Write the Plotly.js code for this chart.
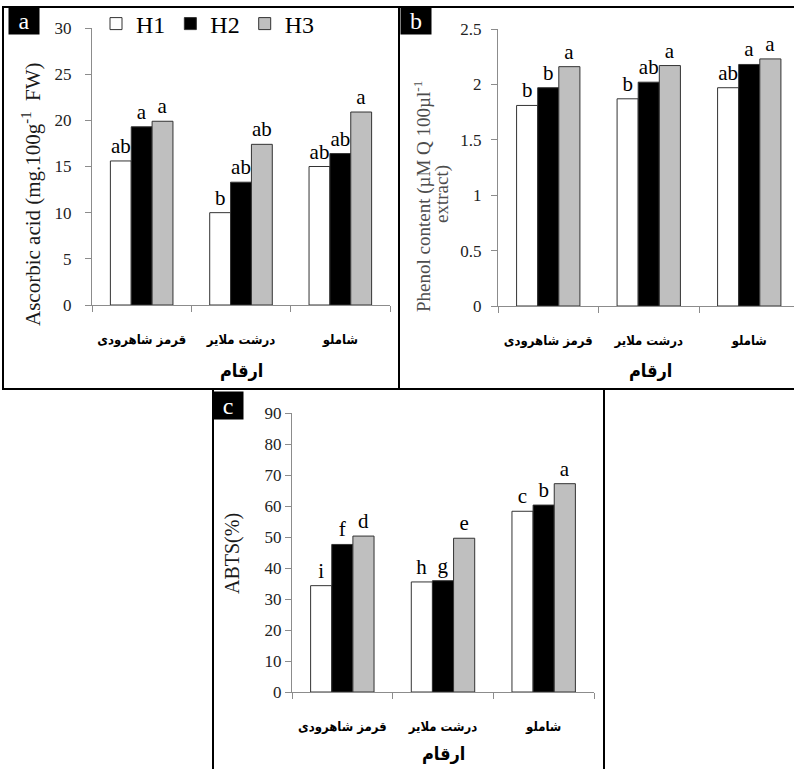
<!DOCTYPE html>
<html>
<head>
<meta charset="utf-8">
<script src="https://cdn.plot.ly/plotly-3.0.1.min.js"></script>
<style>
  html, body { margin: 0; padding: 0; background: #ffffff; }
  #chart { width: 794px; height: 769px; }
</style>
</head>
<body>
<div id="chart"></div>
<script>
// Cultivars (x categories) and harvest stages (series)
const cultivars = ['قرمز شاهرودی', 'درشت ملایر', 'شاملو'];
const seriesNames = ['H1', 'H2', 'H3'];
const xTitle = 'ارقام';

// (a) Ascorbic acid, mg.100g-1 FW
const ascorbicH1 = [15.6, 10.0, 15.0];
const ascorbicH2 = [19.3, 13.3, 16.4];
const ascorbicH3 = [19.9, 17.4, 20.9];
const ascorbicLetH1 = ['ab', 'b', 'ab'];
const ascorbicLetH2 = ['a', 'ab', 'ab'];
const ascorbicLetH3 = ['a', 'ab', 'a'];

// (b) Phenol content
const phenolH1 = [1.81, 1.87, 1.97];
const phenolH2 = [1.97, 2.02, 2.18];
const phenolH3 = [2.16, 2.17, 2.23];
const phenolLetH1 = ['b', 'b', 'ab'];
const phenolLetH2 = ['b', 'ab', 'a'];
const phenolLetH3 = ['a', 'a', 'a'];

// (c) ABTS radical scavenging, %
const abtsH1 = [34.3, 35.5, 58.3];
const abtsH2 = [47.6, 35.9, 60.3];
const abtsH3 = [50.3, 49.6, 67.2];
const abtsLetH1 = ['i', 'h', 'c'];
const abtsLetH2 = ['f', 'g', 'b'];
const abtsLetH3 = ['d', 'e', 'a'];

// Tick values for the three value axes
const ticksA = [0, 5, 10, 15, 20, 25, 30];
const ticksB = [0, 0.5, 1, 1.5, 2, 2.5];
const ticksC = [0, 10, 20, 30, 40, 50, 60, 70, 80, 90];

const W = 794, H = 769;
const px = v => v / W;          // pixel -> paper x
const py = v => 1 - v / H;      // pixel -> paper y

const serif = 'Liberation Serif, Times New Roman, serif';
const arabic = 'DejaVu Sans Condensed, DejaVu Sans, sans-serif';
const fills = ['#ffffff', '#000000', '#bfbfbf'];

function barTrace(name, idx, y, letters, xa, ya, legend) {
  return {
    type: 'bar', name: name, x: cultivars, y: y,
    xaxis: xa, yaxis: ya,
    marker: { color: fills[idx], line: { color: '#333333', width: 1 } },
    text: letters, textposition: 'outside', constraintext: 'none',
    cliponaxis: false,
    textfont: { family: serif, size: 21, color: '#000000' },
    showlegend: legend, legendgroup: name, hoverinfo: 'y'
  };
}

const data = [
  barTrace(seriesNames[0], 0, ascorbicH1, ascorbicLetH1, 'x', 'y', true),
  barTrace(seriesNames[1], 1, ascorbicH2, ascorbicLetH2, 'x', 'y', true),
  barTrace(seriesNames[2], 2, ascorbicH3, ascorbicLetH3, 'x', 'y', true),
  barTrace(seriesNames[0], 0, phenolH1, phenolLetH1, 'x2', 'y2', false),
  barTrace(seriesNames[1], 1, phenolH2, phenolLetH2, 'x2', 'y2', false),
  barTrace(seriesNames[2], 2, phenolH3, phenolLetH3, 'x2', 'y2', false),
  barTrace(seriesNames[0], 0, abtsH1, abtsLetH1, 'x3', 'y3', false),
  barTrace(seriesNames[1], 1, abtsH2, abtsLetH2, 'x3', 'y3', false),
  barTrace(seriesNames[2], 2, abtsH3, abtsLetH3, 'x3', 'y3', false)
];

const axisGray = '#8c8c8c';

function catAxis(domain, anchor, range) {
  return {
    domain: domain, anchor: anchor, type: 'category', range: range,
    tickson: 'boundaries', ticks: 'outside', ticklen: 6, tickcolor: axisGray,
    showline: true, linecolor: axisGray, linewidth: 1,
    showgrid: false, zeroline: false, fixedrange: true,
    tickangle: 0,
    tickfont: { family: arabic, size: 13, color: '#000000', weight: 700 },
    ticklabelstandoff: 22
  };
}

function valAxis(domain, anchor, range, tickvals, standoff) {
  return {
    domain: domain, anchor: anchor, range: range,
    tickmode: 'array', tickvals: tickvals,
    ticks: 'outside', ticklen: 6, tickcolor: axisGray,
    showline: true, linecolor: axisGray, linewidth: 1,
    showgrid: false, zeroline: false, fixedrange: true,
    tickfont: { family: serif, size: 17, color: '#222222' },
    ticklabelstandoff: standoff
  };
}

const frame = { color: '#000000', width: 2 };
const shapes = [
  // panel a
  { type: 'rect', xref: 'paper', yref: 'paper', x0: px(3), x1: px(399), y0: py(389), y1: py(7), line: frame },
  // panel b (open on the right edge)
  { type: 'line', xref: 'paper', yref: 'paper', x0: px(399), x1: px(794), y0: py(7), y1: py(7), line: frame },
  { type: 'line', xref: 'paper', yref: 'paper', x0: px(399), x1: px(794), y0: py(389), y1: py(389), line: frame },
  // panel c (bottom edge at the page border)
  { type: 'line', xref: 'paper', yref: 'paper', x0: px(213), x1: px(213), y0: py(389), y1: py(769), line: frame },
  { type: 'line', xref: 'paper', yref: 'paper', x0: px(604), x1: px(604), y0: py(389), y1: py(769), line: frame }
];

function badge(letter, cx, cy) {
  return {
    xref: 'paper', yref: 'paper', x: px(cx), y: py(cy),
    xanchor: 'center', yanchor: 'middle', showarrow: false,
    text: letter, width: 28, height: 25, bgcolor: '#000000',
    font: { family: serif, size: 24, color: '#ffffff' }
  };
}

function vTitle(text, cx, cy, size, color) {
  return {
    xref: 'paper', yref: 'paper', x: px(cx), y: py(cy),
    xanchor: 'center', yanchor: 'middle', showarrow: false, textangle: -90,
    text: text, font: { family: serif, size: size, color: color }
  };
}

// category-axis title, centred under its own subplot
function xTitleNote(xref, cy) {
  return {
    xref: xref + ' domain', yref: 'paper', x: 0.5, y: py(cy),
    xanchor: 'center', yanchor: 'middle', showarrow: false,
    text: '<b>' + xTitle + '</b>',
    font: { family: arabic, size: 18, color: '#000000', weight: 700 }
  };
}

const annotations = [
  badge('a', 24, 21),
  badge('b', 416, 21),
  badge('c', 228, 405),
  vTitle('Ascorbic acid (mg.100g<sup>-1</sup>  FW)', 32, 194, 21, '#1a1a1a'),
  vTitle('Phenol content (µM Q 100µl<sup>-1</sup>', 423, 197, 19, '#4d4d4d'),
  vTitle('extract)', 442, 194, 19, '#4d4d4d'),
  vTitle('ABTS(%)', 232, 554, 20, '#1a1a1a'),
  xTitleNote('x', 370),
  { ...xTitleNote('x2', 370), xref: 'paper', x: px(650) },
  xTitleNote('x3', 753)
];

const layout = {
  width: W, height: H,
  margin: { l: 0, r: 0, t: 0, b: 0 },
  paper_bgcolor: '#ffffff', plot_bgcolor: 'rgba(0,0,0,0)',
  barmode: 'group', bargap: 0.37, bargroupgap: 0,
  font: { family: serif, color: '#000000' },
  showlegend: true,
  legend: {
    orientation: 'h', x: px(208), y: py(24), xanchor: 'center', yanchor: 'middle',
    bgcolor: 'rgba(0,0,0,0)', font: { family: serif, size: 24, color: '#000000' },
    itemwidth: 30, tracegroupgap: 0
  },
  xaxis: catAxis([px(92), px(390)], 'y', [-0.5, 2.5]),
  yaxis: valAxis([py(305), py(28)], 'x', [0, 30], ticksA, 10),
  xaxis2: catAxis([px(498), 1], 'y2', [-0.5, -0.5 + 296 / 100.5]),
  yaxis2: valAxis([py(306), py(29)], 'x2', [0, 2.5], ticksB, 6),
  xaxis3: catAxis([px(292), px(594)], 'y3', [-0.5, 2.5]),
  yaxis3: valAxis([py(692), py(413)], 'x3', [0, 90], ticksC, 0),
  shapes: shapes,
  annotations: annotations
};

Plotly.newPlot('chart', data, layout, { displayModeBar: false, staticPlot: true });
</script>
</body>
</html>
